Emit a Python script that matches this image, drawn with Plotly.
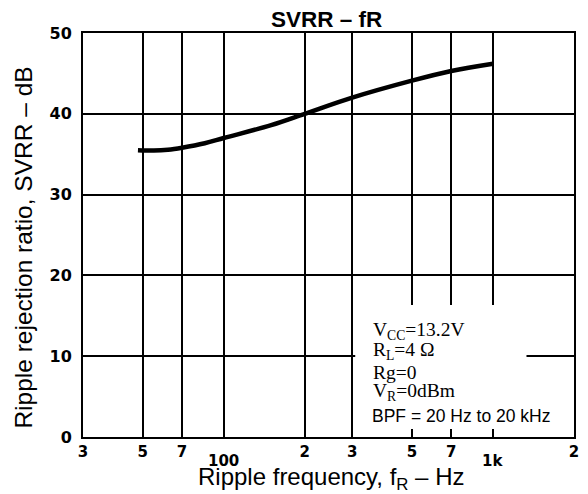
import plotly.graph_objects as go
import math

# data
freq_hz = [48, 55, 62, 70, 85, 100, 150, 200, 300, 500, 700, 1000]
svrr_db = [35.5, 35.45, 35.55, 35.8, 36.35, 37.0, 38.6, 40.0, 42.0, 44.1, 45.3, 46.2]

x_tickvals = [30, 50, 70, 100, 200, 300, 500, 700, 1000, 2000]
x_ticktext = ["3", "5", "7", "", "2", "3", "5", "7", "", "2"]
x_low_labels = [(100, "100"), (1000, "1k")]
y_tickvals = [0, 10, 20, 30, 40, 50]

conditions_serif = ["V<sub>CC</sub>=13.2V", "R<sub>L</sub>=4 Ω", "Rg=0", "V<sub>R</sub>=0dBm"]
condition_sans = "BPF = 20 Hz to 20 kHz"

# page body has an 8px margin: figure is drawn 8px right/down inside the window
OFF = 8
FIG_W, FIG_H = 588 - OFF, 494 - OFF
ML, MR, MT, MB = 83 - OFF, 9, 33 - OFF, 57
PW, PH = FIG_W - ML - MR, FIG_H - MT - MB


def px(xw):
    return (xw - 83) / PW


def py(yw):
    return (437 - yw) / PH


fig = go.Figure()
fig.add_trace(go.Scatter(x=freq_hz, y=svrr_db, mode="lines",
                         line=dict(color="black", width=4.5, shape="spline", smoothing=1.0),
                         showlegend=False, hoverinfo="skip"))

fig.update_xaxes(type="log", range=[math.log10(30), math.log10(2000)],
                 tickmode="array", tickvals=x_tickvals, ticktext=x_ticktext,
                 showgrid=True, gridcolor="black", gridwidth=2,
                 showline=True, linecolor="black", linewidth=2, mirror=True,
                 ticks="", tickfont=dict(family="DejaVu Sans", size=15, color="black", weight="bold"),
                 zeroline=False)
fig.update_yaxes(range=[0, 50], tickmode="array", tickvals=y_tickvals,
                 showgrid=True, gridcolor="black", gridwidth=2,
                 showline=True, linecolor="black", linewidth=2, mirror=True,
                 ticks="", ticklabelstandoff=6,
                 tickfont=dict(family="DejaVu Sans", size=16, color="black", weight="bold"),
                 zeroline=False)

for xv, txt in x_low_labels:
    fig.add_annotation(x=math.log10(xv), y=0, xref="x", yref="paper", text=txt,
                       showarrow=False, yanchor="top", yshift=-13,
                       font=dict(family="DejaVu Sans", size=15, color="black", weight="bold"))

# white area behind the condition block (hides grid lines there)
white_boxes = [(358, 305, 560, 345), (358, 345, 531, 400), (358, 400, 560, 429)]
for x0, y0, x1, y1 in white_boxes:
    fig.add_shape(type="rect", xref="paper", yref="paper",
                  x0=px(x0), x1=px(x1), y0=py(y1), y1=py(y0),
                  fillcolor="white", line=dict(width=0), layer="above")

line_y = [331, 351, 372, 392]
for txt, yy in zip(conditions_serif, line_y):
    fig.add_annotation(x=px(374), y=py(yy), xref="paper", yref="paper", text=txt,
                       showarrow=False, xanchor="left", yanchor="middle",
                       font=dict(family="Liberation Serif", size=19.5, color="black"))
fig.add_annotation(x=px(373), y=py(416), xref="paper", yref="paper", text=condition_sans,
                   showarrow=False, xanchor="left", yanchor="middle",
                   font=dict(family="Liberation Sans", size=17.5, color="black"))

# titles
fig.add_annotation(x=px(329), y=py(20), xref="paper", yref="paper", text="<b>SVRR – fR</b>",
                   showarrow=False, yanchor="middle",
                   font=dict(family="Liberation Sans", size=22.5, color="black"))
fig.add_annotation(x=px(334), y=py(478), xref="paper", yref="paper",
                   text="Ripple frequency, f<sub>R</sub> – Hz",
                   showarrow=False, yanchor="middle",
                   font=dict(family="Liberation Sans", size=24, color="black"))
fig.add_annotation(x=px(22), y=py(248), xref="paper", yref="paper",
                   text="Ripple rejection ratio, SVRR – dB", textangle=-90,
                   showarrow=False, xanchor="center", yanchor="middle",
                   font=dict(family="Liberation Sans", size=24.5, color="black"))

fig.update_layout(width=FIG_W, height=FIG_H, margin=dict(l=ML, r=MR, t=MT, b=MB),
                  paper_bgcolor="white", plot_bgcolor="white")

fig.write_html("out.html")
